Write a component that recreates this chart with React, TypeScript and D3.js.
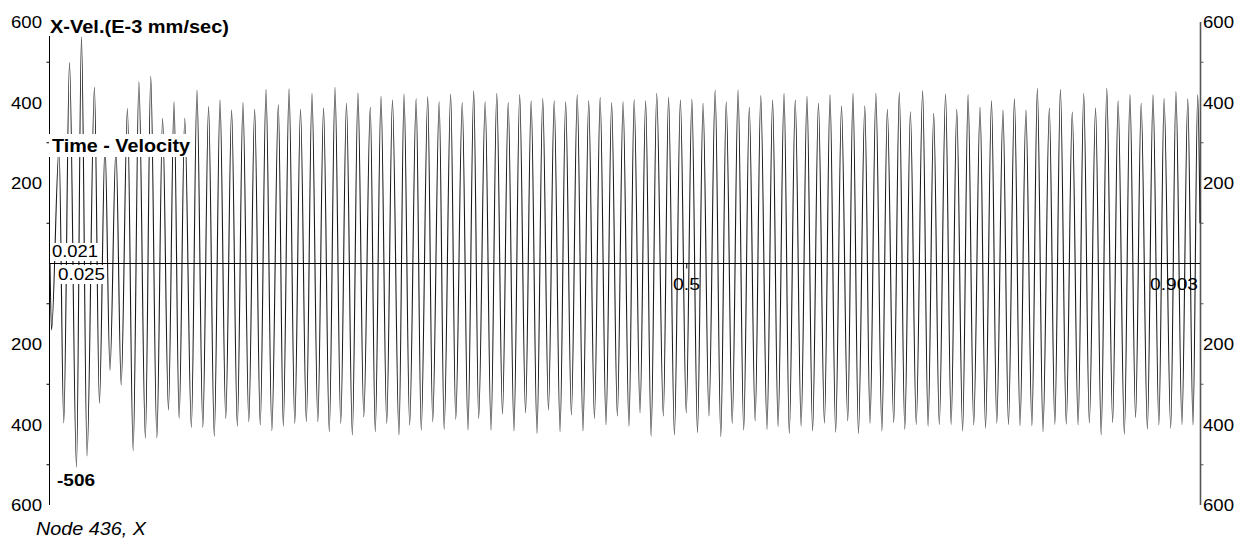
import React from "react";
import * as d3 from "d3";

// Time (ms) of the waveform's successive extrema
const timeMs = [
  0, 1.2, 7.1, 10.8, 15.3, 20.8, 24.7, 29.1, 34.9, 38.8,
  43.2, 47.1, 51.8, 55.9, 60.8, 65.3, 69.8, 74.9, 79.1, 83.9,
  88.4, 93.0, 97.4, 101.4, 105.8, 111.0, 115.4, 120.0, 124.5, 129.0,
  133.5, 138.0, 142.6, 147.1, 151.5, 156.1, 160.7, 165.1, 169.6, 174.2,
  179.3, 183.2, 187.7, 192.2, 196.7, 201.3, 205.7, 210.3, 214.8, 219.3,
  223.8, 228.3, 232.8, 237.4, 241.8, 246.4, 251.5, 255.4, 259.9, 264.4,
  268.9, 274.0, 278.0, 282.4, 287.5, 291.5, 296.6, 300.5, 305.6, 309.5,
  314.6, 318.6, 323.7, 328.2, 332.7, 336.6, 341.7, 346.3, 350.8, 355.3,
  359.8, 364.3, 368.8, 373.4, 377.8, 382.4, 386.9, 391.4, 395.9, 400.5,
  404.9, 409.4, 414.0, 418.5, 423.0, 427.5, 432.0, 436.6, 441.0, 445.5,
  450.0, 454.6, 458.7, 463.3, 467.7, 472.0, 476.4, 481.6, 485.7, 490.3,
  495.0, 499.6, 504.0, 508.4, 512.8, 517.4, 522.3, 526.7, 531.0, 535.7,
  540.3, 544.7, 549.1, 553.7, 558.1, 563.0, 567.4, 571.7, 576.4, 580.5,
  585.2, 589.8, 594.4, 598.8, 603.4, 608.1, 612.5, 616.9, 621.5, 626.4,
  630.5, 634.8, 639.8, 643.9, 648.5, 653.2, 657.5, 662.5, 666.9, 671.2,
  675.6, 680.2, 685.2, 689.5, 693.9, 698.3, 703.2, 707.6, 712.0, 716.6,
  720.9, 725.3, 730.3, 734.6, 739.3, 743.4, 748.3, 752.6, 757.3, 761.7,
  766.3, 771.0, 775.3, 779.7, 784.7, 789.0, 793.4, 798.0, 802.7, 807.3,
  811.7, 816.1, 821.0, 825.4, 829.8, 834.4, 838.7, 843.6, 848.0, 852.4,
  856.8, 861.7, 866.1, 870.7, 874.8, 880.0, 884.1, 888.8, 893.4, 897.5,
  901.2, 903.0,
];

// X-velocity (E-3 mm/sec) at those times
const velocity = [
  0, -165, 287, -396, 499, -506, 563, -478, 438, -347,
  294, -265, 287, -302, 385, -465, 452, -434, 466, -433,
  361, -364, 402, -385, 361, -407, 431, -407, 390, -429,
  406, -385, 381, -404, 400, -393, 383, -401, 433, -415,
  394, -404, 434, -397, 383, -393, 423, -393, 386, -418,
  438, -397, 398, -426, 424, -381, 388, -418, 416, -397,
  406, -426, 421, -401, 409, -414, 414, -393, 402, -412,
  421, -387, 400, -414, 429, -385, 402, -414, 423, -374,
  400, -416, 420, -371, 404, -422, 410, -364, 404, -418,
  402, -376, 420, -416, 404, -385, 412, -401, 400, -379,
  402, -405, 407, -371, 404, -429, 423, -379, 413, -426,
  406, -371, 408, -420, 398, -379, 431, -430, 402, -397,
  431, -414, 388, -391, 417, -412, 406, -405, 423, -422,
  406, -404, 416, -416, 398, -397, 419, -419, 391, -391,
  423, -422, 391, -397, 423, -416, 383, -395, 425, -412,
  377, -400, 429, -404, 373, -400, 421, -400, 383, -416,
  420, -401, 388, -409, 404, -397, 381, -400, 409, -403,
  381, -403, 435, -418, 386, -400, 433, -399, 376, -401,
  423, -396, 386, -426, 435, -395, 404, -424, 420, -383,
  398, -411, 419, -401, 410, -409, 427, -400, 409, -401,
  420, 100,
];

const yLabelValues = [600, 400, 200, -200, -400, -600];
const yMinorTicks = [500, 300, 100, -100, -300, -500];
const xTickValues = [0.5];
const xEndTime = 0.903;

const title = "X-Vel.(E-3 mm/sec)";
const subtitle = "Time - Velocity";
const footer = "Node 436, X";

const FONT = "'Liberation Sans', Arial, Helvetica, sans-serif";

export default function App() {
  const W = 1245;
  const H = 541;
  const x = d3.scaleLinear().domain([0, xEndTime]).range([50, 1200]);
  const y = d3.scaleLinear().domain([-600, 600]).range([505, 22]);

  const pts = timeMs.map((t, i) => ({ t: t / 1000, v: velocity[i] }));
  const line = d3
    .line<{ t: number; v: number }>()
    .x((d) => x(d.t))
    .y((d) => y(d.v))
    .curve(d3.curveMonotoneX);

  const minIdx = d3.minIndex(velocity);
  const maxIdx = d3.maxIndex(velocity);
  const minText = String(velocity[minIdx]);
  const minTime = d3.format(".3f")(timeMs[minIdx] / 1000);
  const maxTime = d3.format(".3f")(timeMs[maxIdx] / 1000);

  const txt = (
    s: string,
    xx: number,
    yy: number,
    len: number,
    opts: { size?: number; weight?: string; style?: string; anchor?: string } = {}
  ) => (
    <text
      x={xx}
      y={yy}
      fontFamily={FONT}
      fontSize={opts.size ?? 17}
      fontWeight={opts.weight ?? "normal"}
      fontStyle={opts.style ?? "normal"}
      textAnchor={opts.anchor ?? "start"}
      textLength={len}
      lengthAdjust="spacingAndGlyphs"
      fill="#000"
    >
      {s}
    </text>
  );

  return (
    <svg
      width={W}
      height={H}
      style={{ position: "absolute", left: 0, top: 0, background: "#fff" }}
    >
      <rect x={0} y={0} width={W} height={H} fill="#fff" />

      {/* left axis */}
      <line x1={49.5} x2={49.5} y1={y(600)} y2={y(-600)} stroke="#000" strokeWidth={1} />
      {yMinorTicks.map((v) => (
        <line key={"lt" + v} x1={46.5} x2={49.5} y1={y(v)} y2={y(v)} stroke="#000" strokeWidth={1} />
      ))}
      {/* right axis */}
      <line x1={1200.5} x2={1200.5} y1={y(600)} y2={y(-600)} stroke="#555" strokeWidth={1.6} />
      {yMinorTicks.map((v) => (
        <line key={"rt" + v} x1={1200.5} x2={1203.5} y1={y(v)} y2={y(v)} stroke="#555" strokeWidth={1} />
      ))}

      {/* waveform */}
      <path d={line(pts) ?? ""} fill="none" stroke="#1a1a1a" strokeWidth={1.1} />

      {/* zero line */}
      <line x1={50} x2={1200} y1={y(0)} y2={y(0)} stroke="#000" strokeWidth={1} />
      {xTickValues.map((t) => (
        <line key={"xt" + t} x1={x(t)} x2={x(t)} y1={y(0)} y2={y(0) + 5} stroke="#000" strokeWidth={1} />
      ))}

      {/* y labels */}
      {yLabelValues.map((v) => (
        <g key={"yl" + v}>
          {txt(String(Math.abs(v)), 42, y(v) + 6, 31, { anchor: "end" })}
          {txt(String(Math.abs(v)), 1203, y(v) + 6, 31)}
        </g>
      ))}

      {/* x labels */}
      {txt("0.5", 673, 290, 27)}
      {txt(d3.format(".3f")(xEndTime), 1150, 290, 48)}

      {/* title boxes */}
      <rect x={47} y={13} width={185} height={23} fill="#fff" />
      {txt(title, 50, 32.5, 179, { size: 18, weight: "bold" })}

      <rect x={49} y={134} width={143} height={23} fill="#fff" />
      {txt(subtitle, 52, 152, 138, { size: 18, weight: "bold" })}

      <rect x={50} y={243} width={50} height={18} fill="#fff" />
      {txt(minTime, 52, 257, 46)}
      <rect x={55} y={265} width={52} height={19} fill="#fff" />
      {txt(maxTime, 58, 279.5, 47)}

      <rect x={55} y={471} width={43} height={18} fill="#fff" />
      {txt(minText, 57, 486, 38, { weight: "bold" })}

      {txt(footer, 36, 535, 110, { size: 18, style: "italic" })}
    </svg>
  );
}
